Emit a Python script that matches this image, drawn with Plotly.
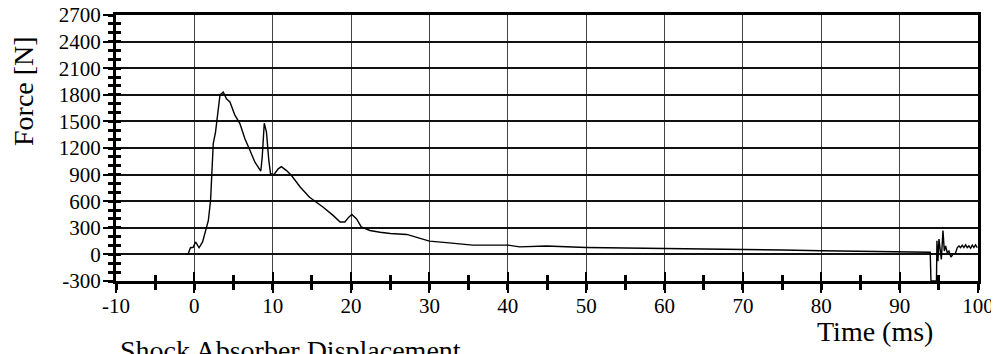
import plotly.graph_objects as go

# Time (ms) and force (N)
time_ms = [-1.0, -0.8, -0.5, -0.15, 0.15, 0.6, 1.05, 1.47, 1.78, 2.07, 2.41, 2.7, 2.96, 3.27,
           3.69, 4.1, 4.54, 5.17, 5.81, 6.45, 7.09, 7.73, 8.48, 8.66, 8.92, 9.2, 9.5, 9.72,
           10.15, 10.7, 11.1, 11.76, 12.4, 13.5, 14.7, 16.4, 17.7, 18.6, 19.2, 19.7, 20.1,
           20.7, 21.3, 22.4, 23.7, 25.0, 27.1, 30.0, 32.5, 35.5, 40.0, 41.5, 44.9, 50.0,
           55.0, 60.0, 65.0, 70.0, 75.0, 80.0, 85.0, 90.0, 93.9, 94.0, 94.7,
           94.76, 94.89, 95.02, 95.15, 95.32, 95.53, 95.70, 95.87, 96.08, 96.29, 96.55,
           96.80, 97.10, 97.36, 97.57, 97.78, 97.99, 98.20, 98.42, 98.63, 98.84, 99.06,
           99.27, 99.48, 99.68, 99.90]
force_n = [0, 5, 75, 80, 140, 75, 140, 270, 380, 610, 1250, 1380, 1590, 1800,
           1830, 1755, 1720, 1570, 1475, 1305, 1175, 1040, 940, 1100, 1480, 1380, 1060, 910,
           900, 965, 990, 945, 890, 760, 645, 535, 440, 365, 365, 420, 450,
           400, 310, 270, 250, 235, 225, 150, 130, 105, 105, 85, 94, 78,
           72, 68, 62, 56, 50, 42, 35, 28, 25, -300, -300,
           153, -77, 173, 96, -58, 269, 38, 96, 19, 38, -31,
           0, 8, 77, 96, 77, 104, 77, 107, 77, 96, 69,
           104, 77, 107, 77]

x_tick_vals = [-10, 0, 10, 20, 30, 40, 50, 60, 70, 80, 90, 100]
x_tick_labels = ["-10", "0", "10", "20", "30", "40", "50", "60", "70", "80", "90", "100"]
y_tick_vals = [-300, 0, 300, 600, 900, 1200, 1500, 1800, 2100, 2400, 2700]
y_tick_labels = ["-300", "0", "300", "600", "900", "1200", "1500", "1800", "2100", "2400", "2700"]

x_range = [-10, 100]
y_range = [-300, 2700]
x_minor_step = 5
y_minor_step = 100

SERIF = "Liberation Serif, Times New Roman, serif"

fig = go.Figure()
fig.add_trace(go.Scatter(x=time_ms, y=force_n, mode="lines",
                         line=dict(color="black", width=1.4),
                         showlegend=False, hoverinfo="skip"))
# helper trace to carry the overlaid tick axes (invisible)
fig.add_trace(go.Scatter(x=time_ms, y=force_n, mode="lines", xaxis="x2", yaxis="y2",
                         line=dict(color="rgba(0,0,0,0)", width=0),
                         showlegend=False, hoverinfo="skip"))

# the page body adds an 8px offset; figure is sized so the plot lands where the reference has it
fig.update_layout(
    width=991, height=346,
    margin=dict(l=108, r=21, t=7, b=73),
    paper_bgcolor="white", plot_bgcolor="white",
    font=dict(family=SERIF, size=21, color="black"),
    xaxis=dict(range=x_range, tickmode="array", tickvals=x_tick_vals, ticktext=x_tick_labels,
               showgrid=True, automargin=False, ticklabeloverflow="allow",
               gridcolor="#444", gridwidth=1, zeroline=False,
               showline=True, linecolor="black", linewidth=3, mirror=True,
               ticks="outside", ticklen=9, tickwidth=2, tickcolor="black",
               ticklabelstandoff=-5,
               minor=dict(dtick=x_minor_step, tick0=0, ticks="outside", ticklen=6, tickwidth=3,
                          tickcolor="black", showgrid=False),
               tickfont=dict(family=SERIF, size=21, color="black")),
    yaxis=dict(range=y_range, tickmode="array", tickvals=y_tick_vals, ticktext=y_tick_labels,
               showgrid=True, automargin=False, ticklabeloverflow="allow",
               gridcolor="#111", gridwidth=2, zeroline=False,
               showline=True, linecolor="black", linewidth=3, mirror=True,
               ticks="outside", ticklen=10, tickwidth=2, tickcolor="black",
               ticklabelstandoff=-2,
               minor=dict(dtick=y_minor_step, tick0=0, ticks="outside", ticklen=5, tickwidth=3,
                          tickcolor="black", showgrid=False),
               tickfont=dict(family=SERIF, size=21, color="black")),
    xaxis2=dict(range=x_range, overlaying="x", anchor="y2", side="bottom", automargin=False,
                dtick=10, tick0=0, showgrid=False, zeroline=False, showline=False,
                showticklabels=False, ticks="inside", ticklen=9, tickwidth=2, tickcolor="black",
                minor=dict(dtick=x_minor_step, tick0=0, ticks="inside", ticklen=6, tickwidth=3,
                           tickcolor="black", showgrid=False)),
    yaxis2=dict(range=y_range, overlaying="y", anchor="x2", side="left", automargin=False,
                dtick=y_minor_step, tick0=0, showgrid=False, zeroline=False, showline=False,
                showticklabels=False, ticks="inside", ticklen=5, tickwidth=3, tickcolor="black"),
    annotations=[
        dict(text="Force [N]", xref="paper", yref="paper", x=-0.108, y=0.714,
             textangle=-90, showarrow=False, xanchor="center", yanchor="middle",
             font=dict(family=SERIF, size=28, color="black")),
        dict(text="Time (ms)", xref="paper", yref="paper", x=0.8805, y=-0.188,
             showarrow=False, xanchor="center", yanchor="middle",
             font=dict(family=SERIF, size=28, color="black")),
        dict(text="Shock Absorber Displacement", xref="paper", yref="paper", x=0.002, y=-0.195,
             showarrow=False, xanchor="left", yanchor="top",
             font=dict(family=SERIF, size=28, color="black")),
    ],
)

fig.write_html("out.html")
